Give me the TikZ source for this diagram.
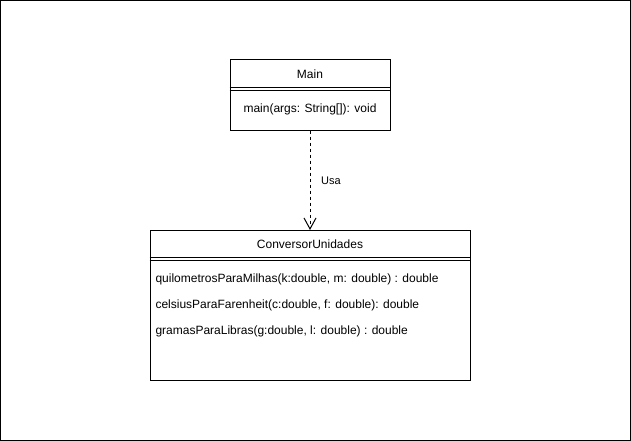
\documentclass[tikz,border=0pt]{standalone}
\usepackage{fontspec}
\setmainfont{Liberation Sans}
\usetikzlibrary{arrows.meta}
\begin{document}
\begin{tikzpicture}[x=1pt,y=-1pt,line width=1pt,
  classbox/.style={draw=black,fill=white,rectangle,inner sep=0pt},
  txt/.style={inner sep=0pt,font=\fontsize{12}{14}\selectfont},
  meth/.style={txt,anchor=west},
  sep/.style={draw=black,line width=1pt}]
\useasboundingbox (0,0) rectangle (631,441);
\draw[black] (0.5,0.5) rectangle (630.5,440.5);
% Main class
\node[classbox,minimum width=160pt,minimum height=70pt] (main) at (310,95) {};
\node[txt] (maintitle) at (310,74.5) {Main};
\draw[sep] (main.west |- 0,87.5) -- (main.east |- 0,87.5);
\draw[sep] (main.west |- 0,90.5) -- (main.east |- 0,90.5);
\node[txt] (mainm) at (310,109) {main(args: String[]): void};
% Conversor class
\node[classbox,minimum width=320pt,minimum height=150pt] (conv) at (310,305.5) {};
\node[txt] (convtitle) at (310,244.5) {ConversorUnidades};
\draw[sep] (conv.west |- 0,257.5) -- (conv.east |- 0,257.5);
\draw[sep] (conv.west |- 0,260.5) -- (conv.east |- 0,260.5);
\node[meth] (m1) at (155,279) {quilometrosParaMilhas(k:double, m: double) : double};
\node[meth] (m2) at (155,305) {celsiusParaFarenheit(c:double, f: double): double};
\node[meth] (m3) at (155,331) {gramasParaLibras(g:double, l: double) : double};
% dependency
\draw[dash pattern=on 3pt off 3pt,-{Straight Barb[length=11pt,width=12pt,line width=1pt]}] (main.south) -- (conv.north);
\node[inner sep=0pt,font=\fontsize{11}{13}\selectfont] (usa) at (331,181) {Usa};
\end{tikzpicture}
\end{document}
